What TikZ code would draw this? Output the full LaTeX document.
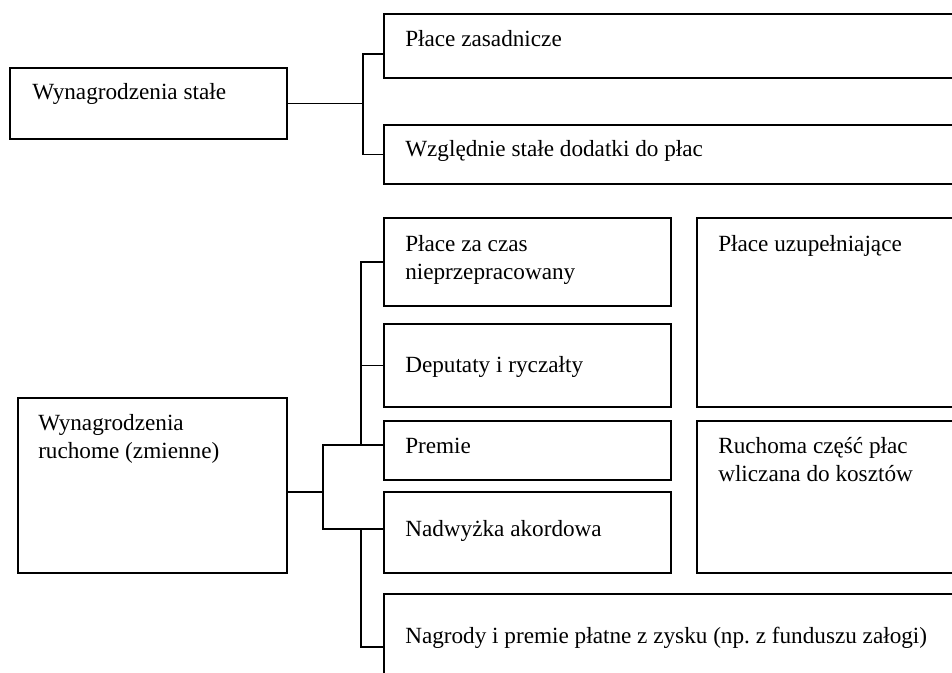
\documentclass[tikz,border=0pt]{standalone}
\usepackage{fontspec}
\setmainfont{Liberation Serif}
\usetikzlibrary{fit,calc}
\tikzset{
  box/.style={draw, line width=1.4pt, inner sep=0pt},
  txt/.style={anchor=base west, inner sep=0pt, align=left, font=\fontsize{17.4}{21}\selectfont\frenchspacing},
  link/.style={line width=1.4pt}
}
\begin{document}
\begin{tikzpicture}[x=0.75pt,y=-0.75pt]
    \useasboundingbox (0,0) rectangle (952,673);
    \clip (0,0) rectangle (952,673);
    % Fixed pay
    \node[box, fit={(10,68) (287,139)}] (stale) {};
    \node[box, fit={(384,14) (970,78)}] (zasad) {};
    \node[box, fit={(384,125) (970,184)}] (dodatki) {};
    \node[txt] (tstale) at (32,100) {Wynagrodzenia stałe};
    \node[txt] (tzasad) at (405,47) {Płace zasadnicze};
    \node[txt] (tdodatki) at (405,157) {Względnie stałe dodatki do płac};
    % Variable pay
    \node[box, fit={(18,398) (287,573)}] (ruch) {};
    \node[box, fit={(384,218) (671,306)}] (czas) {};
    \node[box, fit={(384,324) (671,407)}] (deput) {};
    \node[box, fit={(384,421) (671,480)}] (premie) {};
    \node[box, fit={(384,492) (671,573)}] (nadw) {};
    \node[box, fit={(697,218) (970,407)}] (uzup) {};
    \node[box, fit={(697,421) (970,573)}] (koszt) {};
    \node[box, fit={(384,594) (970,700)}] (nagr) {};
    % (base of a two-line node = last line)
    \node[txt] (truch) at (38,458) {Wynagrodzenia\\ruchome (zmienne)};
    \node[txt] (tczas) at (405,280) {Płace za czas\\nieprzepracowany};
    \node[txt] (tdeput) at (405,372) {Deputaty i ryczałty};
    \node[txt] (tpremie) at (405,453) {Premie};
    \node[txt] (tnadw) at (405,536) {Nadwyżka akordowa};
    \node[txt] (tuzup) at (718,252) {Płace uzupełniające};
    \node[txt] (tkoszt) at (718,481) {Ruchoma część płac\\wliczana do kosztów};
    \node[txt] (tnagr) at (405,643) {Nagrody i premie płatne z zysku (np. z funduszu załogi)};
    % Connectors, top
    \draw[link] (stale.east) -- ++(75,0) coordinate (js);
    \draw[link] (js) |- ($(zasad.south west)+(0,-25)$);
    \draw[link] (js) |- (dodatki.west);
    % Connectors, bottom
    \coordinate (pin) at ($(premie.north west)+(0,25)$);
    \coordinate (nin) at ($(nadw.north west)+(0,38)$);
    \draw[link] ($(ruch.south east)+(0,-82)$) -- ++(35,0) coordinate (jr);
    \draw[link] (jr) |- (pin);
    \draw[link] (jr) |- (nin);
    \draw[link] (czas.west) -| ($(pin)+(-22,0)$);
    \draw[link] (deput.west) -- ++(-22,0);
    \draw[link] ($(nagr.north west)+(0,54)$) -| ($(nin)+(-22,0)$);
\end{tikzpicture}
\end{document}
